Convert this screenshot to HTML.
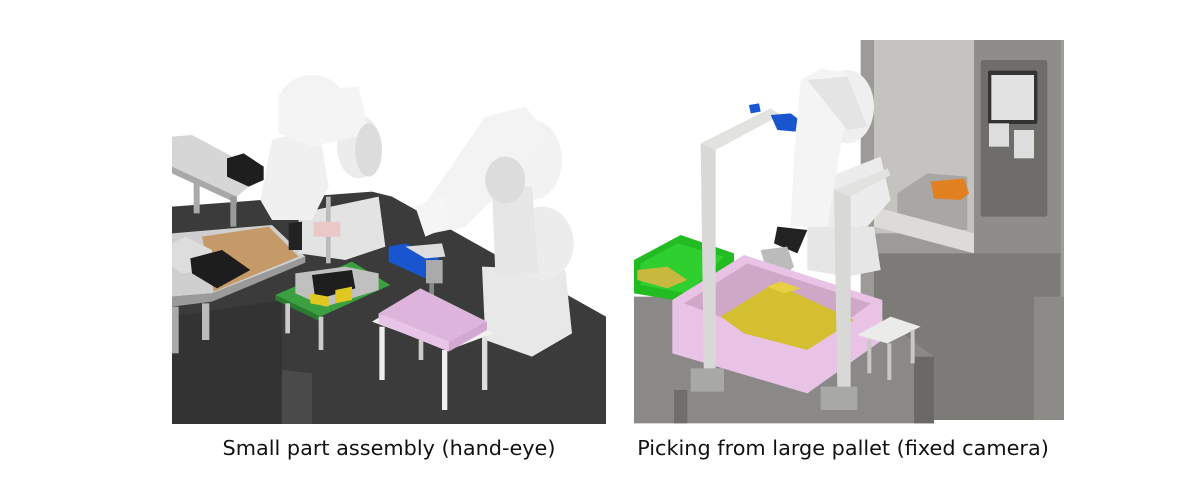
<!DOCTYPE html>
<html><head><meta charset="utf-8"><style>
html,body{margin:0;padding:0;background:#fff;width:1200px;height:480px;overflow:hidden}
svg{position:absolute}
.cap{position:absolute;top:436px;font-family:"DejaVu Sans","Liberation Sans",sans-serif;font-size:20.8px;color:#111;white-space:nowrap;transform:translateX(-50%)}
</style></head><body>
<svg style="left:172px;top:40px" width="434" height="384" viewBox="0 0 1302 1152">
<rect width="1302" height="1152" fill="#fff"/>
<polygon points="0,500 600,455 660,470 1302,830 1302,1152 0,1152" fill="#3b3b3b"/>
<polygon points="0,950 420,1000 420,1152 0,1152" fill="#4a4a4a"/>
<polygon points="0,830 330,780 330,1152 0,1152" fill="#333"/>
<polygon points="0,290 60,285 275,400 195,470 0,380" fill="#d6d6d6"/>
<polygon points="0,380 195,470 195,490 0,400" fill="#a8a8a8"/>
<rect x="65" y="430" width="18" height="90" fill="#aaa"/><rect x="175" y="470" width="18" height="90" fill="#999"/>
<polygon points="165,355 215,340 275,380 275,420 230,440 165,410" fill="#1e1e1e"/>
<polygon points="0,580 300,555 400,650 120,760 0,770" fill="#cfcfcf"/>
<polygon points="90,590 290,560 380,650 125,755" fill="#c69a68"/>
<polygon points="0,770 120,760 400,650 400,668 120,785 0,800" fill="#9a9a9a"/>
<rect x="90" y="790" width="22" height="110" fill="#bbb"/><rect x="0" y="800" width="20" height="140" fill="#aaa"/>
<polygon points="0,610 40,590 120,630 120,690 30,700 0,680" fill="#ddd"/>
<polygon points="55,655 150,630 235,690 135,745 60,700" fill="#1d1d1d"/>
<polygon points="380,520 620,470 640,620 520,660 380,640" fill="#e3e3e3"/>
<polygon points="300,300 440,260 470,440 420,540 300,540 265,480" fill="#f0f0f0"/>
<ellipse cx="420" cy="190" rx="100" ry="85" fill="#f3f3f3"/>
<ellipse cx="560" cy="320" rx="65" ry="95" fill="#ececec"/>
<polygon points="320,160 560,140 590,280 420,320 320,280" fill="#f4f4f4"/>
<ellipse cx="590" cy="330" rx="40" ry="80" fill="#dcdcdc"/>
<polygon points="350,550 390,545 390,630 350,630" fill="#222"/>
<rect x="462" y="470" width="14" height="200" fill="#bbb"/>
<rect x="425" y="545" width="80" height="45" fill="#eac8c8"/>
<polygon points="310,765 540,665 655,735 445,830" fill="#3aa040"/>
<polygon points="310,765 445,830 445,845 310,780" fill="#2a7a30"/>
<rect x="340" y="790" width="14" height="90" fill="#ccc"/><rect x="440" y="830" width="14" height="100" fill="#ccc"/>
<polygon points="370,700 520,680 620,700 620,750 460,800 370,760" fill="#c0c0c0"/>
<polygon points="420,705 540,690 550,745 430,780" fill="#1e1e1e"/>
<polygon points="415,760 470,770 470,800 415,790" fill="#e0c820"/>
<polygon points="490,750 540,740 540,780 490,790" fill="#e0c820"/>
<polygon points="930,680 1180,690 1200,880 1080,950 940,900" fill="#e8e8e8"/>
<ellipse cx="1110" cy="610" rx="95" ry="110" fill="#ececec"/>
<ellipse cx="1080" cy="360" rx="90" ry="120" fill="#f2f2f2"/>
<polygon points="940,230 1060,200 1140,300 880,560 780,580 740,520" fill="#f3f3f3"/>
<polygon points="960,450 1080,440 1100,700 970,700" fill="#e6e6e6"/>
<ellipse cx="1000" cy="420" rx="60" ry="70" fill="#dcdcdc"/>
<polygon points="730,500 820,460 830,560 760,590" fill="#f5f5f5"/>
<polygon points="650,620 700,610 800,650 800,710 760,715 650,665" fill="#1a55d0"/>
<polygon points="700,620 810,610 820,650 760,655" fill="#ddd"/>
<rect x="762" y="660" width="50" height="70" fill="#aaa"/><rect x="772" y="730" width="14" height="50" fill="#888"/>
<polygon points="600,845 740,760 965,880 830,930" fill="#f0f0f0"/>
<rect x="622" y="860" width="16" height="160" fill="#eee"/><rect x="810" y="930" width="16" height="180" fill="#eee"/><rect x="930" y="890" width="16" height="160" fill="#ddd"/><rect x="740" y="900" width="14" height="60" fill="#ccc"/>
<polygon points="620,820 745,745 945,845 830,905" fill="#dcb4dc"/>
<polygon points="620,820 830,905 830,935 620,850" fill="#e8c4e8"/>
<polygon points="830,905 945,845 945,870 830,935" fill="#d2a8d2"/>
</svg>

<svg style="left:634px;top:40px" width="430" height="384" viewBox="0 0 1290 1152">
<rect width="1290" height="1152" fill="#fff"/>
<rect x="680" y="0" width="610" height="1140" fill="#9c9b98"/>
<polygon points="720,0 1020,0 1020,580 720,580" fill="#c4c3bf"/>
<polygon points="790,460 880,400 1000,410 1000,570 790,560" fill="#a8a7a4"/>
<polygon points="720,500 1020,580 1020,640 720,560" fill="#dcdbd7"/>
<rect x="1020" y="0" width="260" height="770" fill="#8e8d8a"/>
<rect x="1040" y="60" width="200" height="470" rx="8" fill="#6e6d6a"/>
<rect x="1062" y="92" width="148" height="160" rx="6" fill="#333"/>
<rect x="1072" y="105" width="128" height="135" fill="#e2e2e2"/>
<rect x="1065" y="250" width="60" height="70" fill="#ddd"/><rect x="1140" y="270" width="60" height="85" fill="#ddd"/>
<rect x="720" y="640" width="560" height="500" fill="#7c7b78"/>
<rect x="1200" y="770" width="90" height="370" fill="#8c8b88"/>
<polygon points="890,425 990,415 1005,460 980,480 900,475" fill="#e08020"/>
<polygon points="0,770 120,770 700,800 900,950 900,1150 0,1150" fill="#8a8987"/>
<rect x="840" y="950" width="60" height="200" fill="#6a6968"/>
<rect x="120" y="1050" width="40" height="100" fill="#6f6e6c"/>
<polygon points="0,660 140,585 300,640 300,700 180,790 0,760" fill="#22bb22"/>
<polygon points="20,670 130,610 270,650 160,760 20,735" fill="#2fcf2f"/>
<polygon points="10,690 100,680 160,720 100,745 10,720" fill="#c8b840"/>
<polygon points="520,560 720,560 740,690 640,710 520,690" fill="#e6e6e6"/>
<polygon points="560,420 740,350 770,480 700,560 560,560" fill="#ececec"/>
<ellipse cx="640" cy="200" rx="80" ry="110" fill="#efefef"/>
<polygon points="500,120 560,85 640,100 630,260 580,560 470,560 480,350" fill="#f4f4f4"/>
<polygon points="520,120 640,110 700,260 640,270" fill="#e4e4e4"/>
<polygon points="430,560 520,570 490,640 420,610" fill="#222"/>
<polygon points="380,630 460,620 480,680 440,720 400,700" fill="#bbb"/>
<polygon points="115,780 330,645 745,780 745,900 520,1060 115,940" fill="#e9c3e6"/>
<polygon points="150,790 340,670 710,790 520,930" fill="#cfa8c8"/>
<polygon points="260,830 420,730 660,840 520,930 330,880" fill="#d4bf30"/>
<polygon points="400,740 440,725 500,745 450,760" fill="#e8d040"/>
<polygon points="200,310 245,300 245,1040 210,1040" fill="#d8d8d6"/>
<polygon points="200,310 410,205 440,225 245,330" fill="#e2e2e0"/>
<polygon points="600,450 650,440 650,1050 610,1050" fill="#d8d8d6"/>
<polygon points="600,450 760,385 770,405 650,470" fill="#e2e2e0"/>
<rect x="170" y="985" width="100" height="70" fill="#a8a8a6"/>
<rect x="560" y="1040" width="110" height="70" fill="#a8a8a6"/>
<polygon points="410,225 470,220 490,235 485,275 430,270" fill="#1a55d0"/>
<polygon points="345,195 375,190 380,215 350,220" fill="#1a55d0"/>
<polygon points="670,885 770,830 860,860 760,910" fill="#ebebea"/>
<rect x="700" y="900" width="12" height="100" fill="#c8c8c6"/><rect x="760" y="910" width="12" height="110" fill="#c8c8c6"/><rect x="830" y="870" width="12" height="100" fill="#c8c8c6"/>
</svg>

<div class="cap" style="left:389px">Small part assembly (hand-eye)</div>
<div class="cap" style="left:843px">Picking from large pallet (fixed camera)</div>
</body></html>
